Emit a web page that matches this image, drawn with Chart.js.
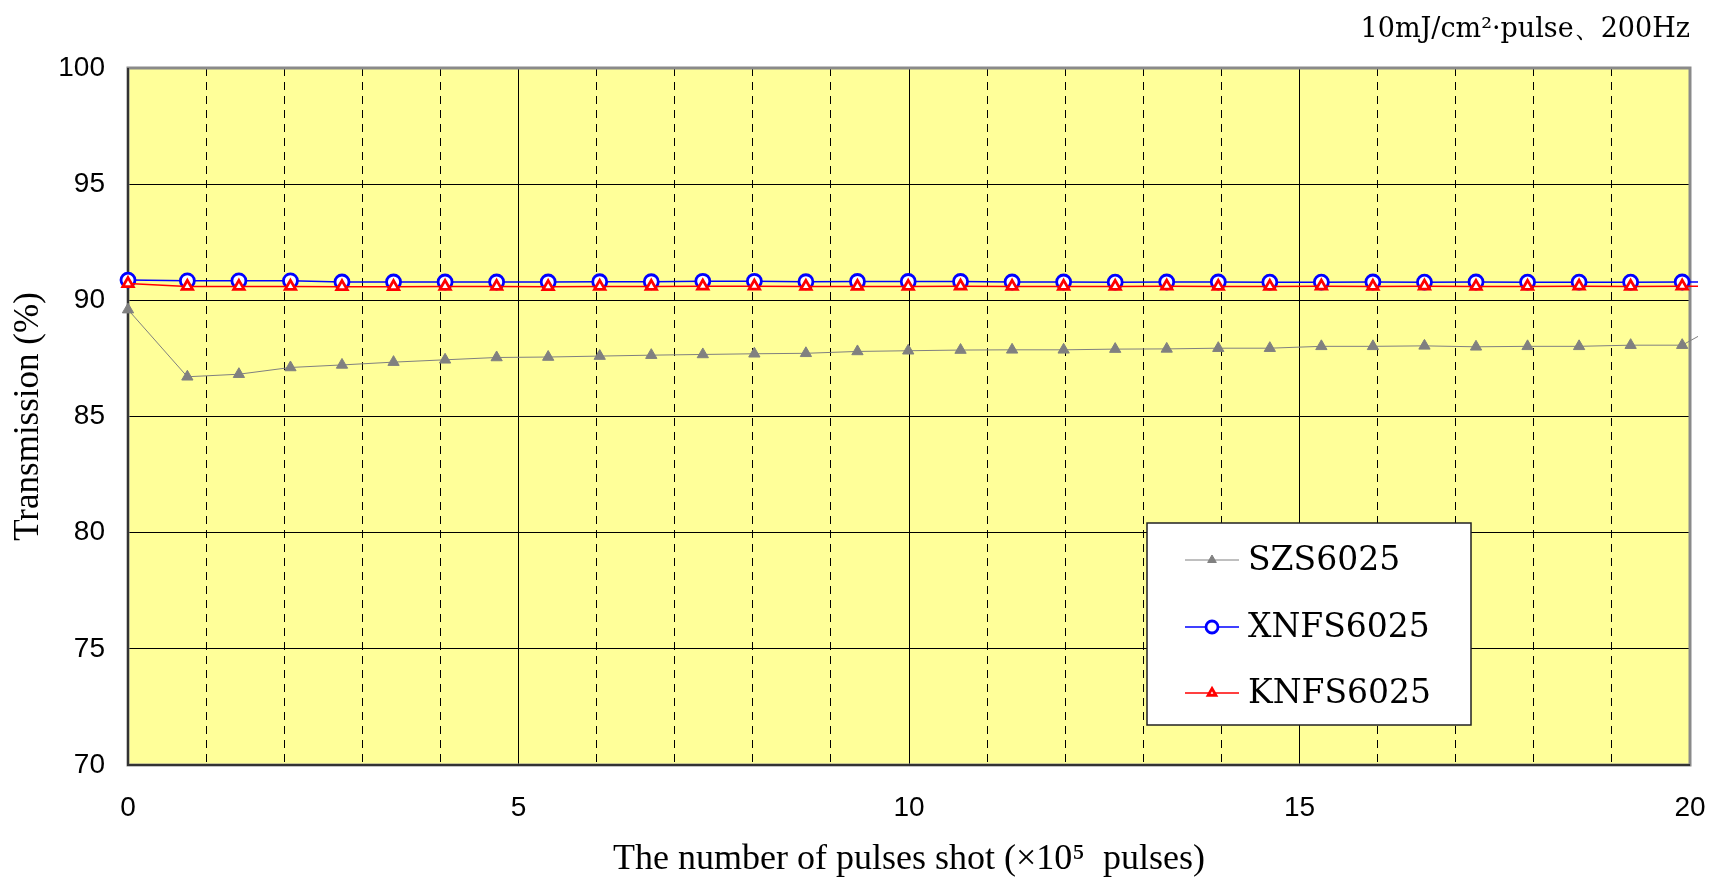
<!DOCTYPE html>
<html><head><meta charset="utf-8">
<script src="https://cdn.jsdelivr.net/npm/chart.js@4.4.0/dist/chart.umd.min.js"></script>
<style>html,body{margin:0;padding:0;background:#fff;overflow:hidden}#wrap{width:1715px;height:879px;position:relative}</style>
</head><body><div id="wrap"><canvas id="c" width="1715" height="879"></canvas></div>
<script>
// ---- data ----
const seriesNames = ['SZS6025', 'XNFS6025', 'KNFS6025'];
const pulseShots = [0, 0.76, 1.42, 2.08, 2.74, 3.40, 4.06, 4.72, 5.38, 6.04, 6.70, 7.36, 8.02, 8.68, 9.34, 9.99,
  10.66, 11.32, 11.98, 12.64, 13.30, 13.96, 14.62, 15.28, 15.94, 16.60, 17.26, 17.92, 18.58, 19.24, 19.90, 20.56];
const szs6025 = [89.60, 86.71, 86.82, 87.11, 87.22, 87.34, 87.44, 87.54, 87.56, 87.60, 87.64, 87.67, 87.70, 87.72, 87.80, 87.83,
  87.86, 87.87, 87.87, 87.90, 87.91, 87.94, 87.94, 88.02, 88.02, 88.04, 88.00, 88.02, 88.02, 88.07, 88.07, 89.30];
const xnfs6025 = [90.87, 90.84, 90.84, 90.84, 90.79, 90.79, 90.79, 90.79, 90.79, 90.80, 90.80, 90.82, 90.82, 90.80, 90.81, 90.81,
  90.81, 90.79, 90.79, 90.78, 90.79, 90.79, 90.78, 90.78, 90.79, 90.78, 90.79, 90.78, 90.78, 90.78, 90.79, 90.78];
const knfs6025 = [90.72, 90.60, 90.60, 90.60, 90.59, 90.59, 90.60, 90.60, 90.59, 90.60, 90.60, 90.61, 90.61, 90.60, 90.60, 90.60,
  90.61, 90.60, 90.60, 90.60, 90.61, 90.60, 90.60, 90.61, 90.60, 90.61, 90.60, 90.60, 90.61, 90.60, 90.61, 90.61];
const yTickValues = [70, 75, 80, 85, 90, 95, 100];
const xTickLabels = [0, 5, 10, 15, 20];
const xTitle = 'The number of pulses shot (×10⁵  pulses)';
const yTitle = 'Transmission (%)';
const noteText = '10mJ/cm²·pulse、200Hz';

function pts(ys) { return pulseShots.map((x, i) => ({x: x, y: ys[i]})); }

function drawMarker(ctx, style, r, x, y) {
  ctx.beginPath();
  if (style === 'circle') {
    ctx.arc(x, y, r, 0, Math.PI * 2);
  } else {
    const a = Math.PI / 2;
    ctx.moveTo(x + Math.cos(-a) * r, y + Math.sin(-a) * r);
    ctx.lineTo(x + Math.cos(-a + 2 * Math.PI / 3) * r, y + Math.sin(-a + 2 * Math.PI / 3) * r);
    ctx.lineTo(x + Math.cos(-a + 4 * Math.PI / 3) * r, y + Math.sin(-a + 4 * Math.PI / 3) * r);
    ctx.closePath();
  }
  ctx.fill();
  ctx.stroke();
}

const decor = {
  id: 'decor',
  beforeDraw(chart) {
    const {ctx, chartArea: a} = chart;
    ctx.save();
    ctx.fillStyle = '#ffffff';
    ctx.fillRect(0, 0, chart.width, chart.height);
    ctx.fillStyle = '#ffff99';
    ctx.fillRect(a.left, a.top, a.right - a.left, a.bottom - a.top);
    ctx.restore();
  },
  beforeDatasetsDraw(chart) {
    const {ctx, chartArea: a} = chart;
    ctx.save();
    ctx.strokeStyle = '#8a8a8a';
    ctx.lineWidth = 3;
    ctx.strokeRect(a.left, a.top, a.right - a.left, a.bottom - a.top);
    ctx.strokeStyle = '#333333';
    ctx.lineWidth = 2;
    ctx.beginPath();
    ctx.moveTo(a.left, a.top);
    ctx.lineTo(a.left, a.bottom);
    ctx.lineTo(a.right, a.bottom);
    ctx.stroke();
    ctx.restore();
  },
  afterDraw(chart) {
    const {ctx, chartArea: a} = chart;
    ctx.save();
    // note at top right
    ctx.fillStyle = '#000';
    ctx.font = '27px "DejaVu Serif"';
    ctx.textAlign = 'right';
    ctx.textBaseline = 'middle';
    ctx.fillText(noteText, a.right, 30);
    // legend box
    const bx = 1147, by = 523, bw = 324, bh = 202;
    ctx.fillStyle = '#ffffff';
    ctx.fillRect(bx, by, bw, bh);
    ctx.strokeStyle = '#222';
    ctx.lineWidth = 1.5;
    ctx.strokeRect(bx, by, bw, bh);
    const rows = [560, 627, 693];
    const legendR = [5, 6, 4.5];
    chart.data.datasets.forEach((ds, i) => {
      const y = rows[i];
      ctx.strokeStyle = ds.borderColor;
      ctx.lineWidth = ds.borderWidth;
      ctx.beginPath();
      ctx.moveTo(1185, y);
      ctx.lineTo(1239, y);
      ctx.stroke();
      ctx.fillStyle = ds.pointBackgroundColor;
      ctx.strokeStyle = ds.pointBorderColor;
      ctx.lineWidth = ds.pointBorderWidth;
      drawMarker(ctx, ds.pointStyle, legendR[i], 1212, y);
      ctx.fillStyle = '#000';
      ctx.font = '33px "DejaVu Serif"';
      ctx.textAlign = 'left';
      ctx.textBaseline = 'middle';
      ctx.fillText(ds.label, 1248, y + 1);
    });
    ctx.restore();
  }
};

const clipBox = {left: 12, top: 12, right: 8, bottom: 12};

new Chart(document.getElementById('c'), {
  type: 'line',
  data: {
    datasets: [
      {label: seriesNames[0], data: pts(szs6025), borderColor: '#808080', borderWidth: 1,
       pointStyle: 'triangle', pointRadius: 6.5, pointBackgroundColor: '#808080', pointBorderColor: '#808080',
       pointBorderWidth: 1, order: 2, clip: clipBox, tension: 0},
      {label: seriesNames[1], data: pts(xnfs6025), borderColor: '#0000ff', borderWidth: 1.5,
       pointStyle: 'circle', pointRadius: 7, pointBackgroundColor: '#ffffff', pointBorderColor: '#0000ff',
       pointBorderWidth: 2.8, order: 1, clip: clipBox, tension: 0},
      {label: seriesNames[2], data: pts(knfs6025), borderColor: '#ff0000', borderWidth: 1.5,
       pointStyle: 'triangle', pointRadius: 6, pointBackgroundColor: '#ffffff', pointBorderColor: '#ff0000',
       pointBorderWidth: 2.8, order: 0, clip: clipBox, tension: 0}
    ]
  },
  options: {
    responsive: false,
    animation: false,
    devicePixelRatio: 1,
    layout: {padding: {top: 68, right: 25, bottom: 0, left: 0}},
    plugins: {legend: {display: false}, tooltip: {enabled: false}},
    scales: {
      x: {
        type: 'linear', min: 0, max: 20,
        afterFit: s => { s.height = 114; s.paddingRight = 0; s.paddingLeft = 0; },
        ticks: {
          stepSize: 1, autoSkip: false, maxRotation: 0, padding: 26, color: '#000',
          font: {family: 'Liberation Sans', size: 28},
          callback: v => xTickLabels.includes(v) ? String(v) : ''
        },
        grid: {color: '#000', lineWidth: 1, drawTicks: false},
        border: {display: false, dash: c => (c.tick && c.tick.value % 5 !== 0) ? [8, 6] : []},
        title: {display: true, text: xTitle, color: '#000',
          font: {family: 'Liberation Serif', size: 36, lineHeight: 1.1}, padding: {top: 0, bottom: 0}}
      },
      y: {
        min: 70, max: 100,
        afterFit: s => { s.width = 128; s.paddingTop = 0; s.paddingBottom = 0; },
        ticks: {
          stepSize: 5, padding: 23, color: '#000',
          font: {family: 'Liberation Sans', size: 28},
          callback: v => yTickValues.includes(v) ? String(v) : ''
        },
        grid: {color: '#000', lineWidth: 1, drawTicks: false},
        border: {display: false},
        title: {display: true, text: yTitle, color: '#000',
          font: {family: 'Liberation Serif', size: 35, lineHeight: 1.2}, padding: {top: 8, bottom: 0}}
      }
    }
  },
  plugins: [decor]
});
</script>
</body></html>
